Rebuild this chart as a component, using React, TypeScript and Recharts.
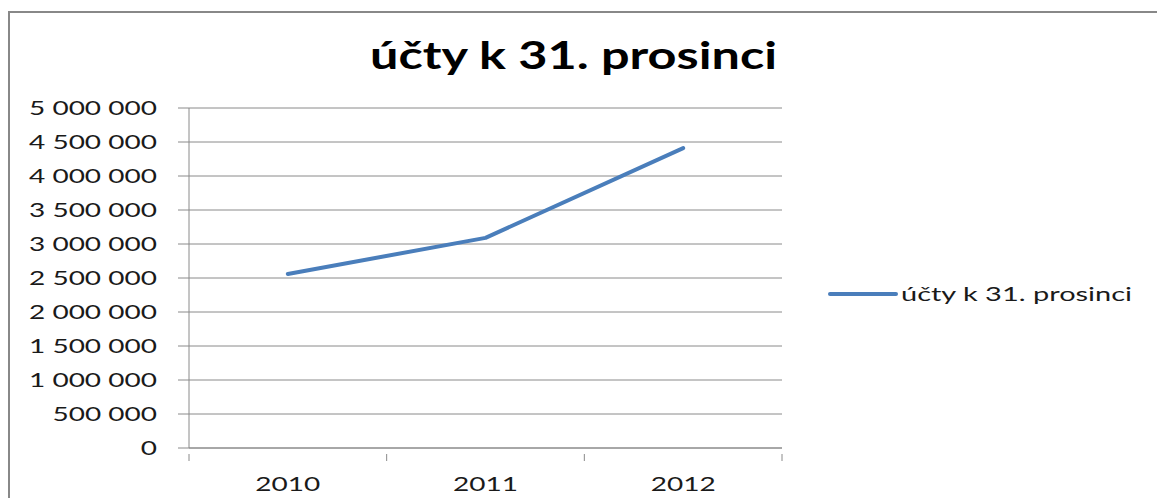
import React from "react";
import { LineChart, Line, XAxis, YAxis, CartesianGrid } from "recharts";

const years = ["2010", "2011", "2012"];
const accounts = [2560000, 3090000, 4410000];
const yTicks = [0, 500000, 1000000, 1500000, 2000000, 2500000, 3000000, 3500000, 4000000, 4500000, 5000000];
const seriesName = "účty k 31. prosinci";
const titleText = "účty k 31. prosinci";

const data = years.map((y, i) => ({ year: y, value: accounts[i] }));

const W = 1157;
const H = 498;
const FONT = "Lato, 'Open Sans', sans-serif";
const GRID = "#8a8a8a";
const LINE = "#4a7ebb";
const SX = 1.4;

const fmt = (v: number) => String(v).replace(/\B(?=(\d{3})+(?!\d))/g, " ");

const YTick = (props: any) => {
  const { x, y, payload } = props;
  return (
    <g transform={`translate(${x},${y})`}>
      <text transform={`scale(${SX},1)`} textAnchor="end" dy="0.36em" fontFamily={FONT} fontSize={20} fill="#1a1a1a">
        {fmt(payload.value)}
      </text>
    </g>
  );
};

const XTick = (props: any) => {
  const { x, y, payload, index } = props;
  const half = payload.offset || 98.8;
  const axisY = y - 10;
  return (
    <g>
      <line x1={x - half} x2={x - half} y1={axisY} y2={axisY + 7} stroke={GRID} strokeWidth={1} />
      {index === years.length - 1 && (
        <line x1={x + half} x2={x + half} y1={axisY} y2={axisY + 7} stroke={GRID} strokeWidth={1} />
      )}
      <g transform={`translate(${x},${y + 27})`}>
        <text transform={`scale(${SX},1)`} textAnchor="middle" fontFamily={FONT} fontSize={20} fill="#1a1a1a">
          {payload.value}
        </text>
      </g>
    </g>
  );
};

export default function App() {
  return (
    <div style={{ position: "absolute", left: 0, top: 0, width: W, height: H, background: "#fff", overflow: "hidden" }}>
      <div
        style={{
          position: "absolute",
          left: 8,
          top: 11,
          width: W,
          height: H,
          borderTop: "2px solid #888",
          borderLeft: "2px solid #888",
        }}
      />
      <svg width={W} height={90} style={{ position: "absolute", left: 0, top: 0 }}>
        <text
          x={370}
          y={69}
          fontFamily={FONT}
          fontWeight={700}
          fontSize={38}
          fill="#000"
          textLength={407}
          lengthAdjust="spacingAndGlyphs"
        >
          {titleText}
        </text>
      </svg>
      <div style={{ position: "absolute", left: 0, top: 0 }}>
        <LineChart width={W} height={H} data={data} margin={{ top: 108, right: 375, bottom: 0, left: 0 }}>
          <CartesianGrid vertical={false} stroke={GRID} strokeWidth={1} />
          <XAxis
            dataKey="year"
            scale="band"
            height={50}
            stroke={GRID}
            tickLine={false}
            tick={<XTick />}
            tickMargin={10}
            interval={0}
          />
          <YAxis
            width={189}
            domain={[0, 5000000]}
            ticks={yTicks}
            stroke={GRID}
            tickSize={11}
            tickMargin={21}
            tick={<YTick />}
            interval={0}
          />
          <Line
            type="linear"
            dataKey="value"
            name={seriesName}
            stroke={LINE}
            strokeWidth={4}
            dot={false}
            activeDot={false}
            strokeLinejoin="round"
            strokeLinecap="round"
            isAnimationActive={false}
          />
        </LineChart>
      </div>
      <svg width={320} height={30} style={{ position: "absolute", left: 828, top: 280 }}>
        <line x1={2} x2={68} y1={14} y2={14} stroke={LINE} strokeWidth={4} strokeLinecap="round" />
        <text x={73} y={21} fontFamily={FONT} fontSize={20} fill="#1a1a1a" textLength={231} lengthAdjust="spacingAndGlyphs">
          {seriesName}
        </text>
      </svg>
    </div>
  );
}
